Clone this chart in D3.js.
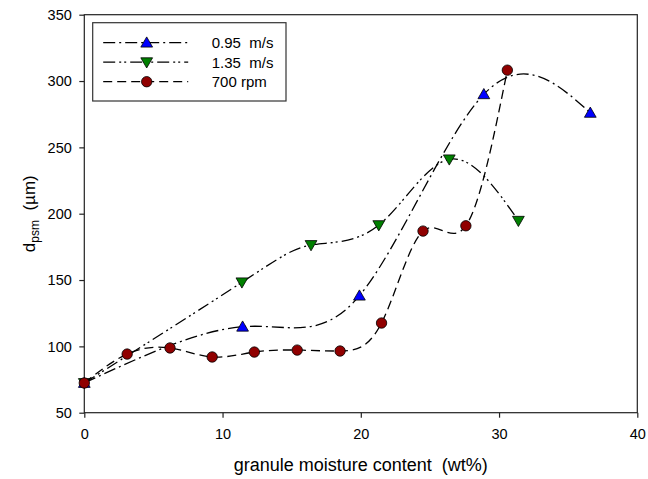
<!DOCTYPE html>
<html>
<head>
<meta charset="utf-8">
<script src="https://cdn.jsdelivr.net/npm/d3@7"></script>
<style>
  body { margin: 0; background: #fff; }
  svg { font-family: "Liberation Sans", Arial, sans-serif; }
  text { white-space: pre; }
</style>
</head>
<body>
<svg width="648" height="479"></svg>
<script>
// moisture content (wt%) and d_psm (µm) per series
const seriesNames = ["0.95  m/s", "1.35  m/s", "700 rpm"];
const x095 = [0, 11.45, 19.9, 28.9, 36.6];
const y095 = [72.4, 114.8, 138.2, 290, 276];
const x135 = [0, 11.4, 16.4, 21.3, 26.4, 31.4];
const y135 = [72.4, 148.3, 176.4, 191.4, 241, 194.7];
const x700 = [0, 3.1, 6.2, 9.25, 12.3, 15.4, 18.5, 21.5, 24.5, 27.6, 30.6];
const y700 = [72.4, 94.2, 98.8, 92, 95.7, 97.2, 96.5, 117.6, 186.9, 190.9, 308.2];
const xTicks = [0, 10, 20, 30, 40];
const yTicks = [50, 100, 150, 200, 250, 300, 350];

const svg = d3.select("svg");

const xScale = d3.scaleLinear().domain([0, 40]).range([84.3, 637.3]);
const yScale = d3.scaleLinear().domain([50, 350]).range([412.7, 14.7]);

const series = [
  { name: seriesNames[0], xs: x095, ys: y095, dash: "12,4,2,4", marker: "up", fill: "#0000ff" },
  { name: seriesNames[1], xs: x135, ys: y135, dash: "12,4,2,3,2,4", marker: "down", fill: "#008000" },
  { name: seriesNames[2], xs: x700, ys: y700, dash: "9,5", marker: "circle", fill: "#900000" },
];

const tri = d3.symbol().type(d3.symbolTriangle).size(60);

const drawMarker = (sel, s) => {
  if (s.marker === "circle") {
    sel.append("circle").attr("r", 5.2);
  } else {
    sel.append("path")
      .attr("d", tri())
      .attr("transform", s.marker === "up" ? "translate(0,1)" : "rotate(180) translate(0,1)");
  }
  sel.selectAll("circle,path")
    .attr("fill", s.fill)
    .attr("stroke", "#000")
    .attr("stroke-width", 0.8);
};

// frame
svg.append("rect")
  .attr("x", xScale(0))
  .attr("y", yScale(350))
  .attr("width", xScale(40) - xScale(0))
  .attr("height", yScale(50) - yScale(350))
  .attr("fill", "none")
  .attr("stroke", "#222")
  .attr("stroke-width", 1.2);

// axes
const xAxis = d3.axisBottom(xScale).tickValues(xTicks).tickSize(5).tickSizeOuter(0).tickPadding(11);
const yAxis = d3.axisLeft(yScale).tickValues(yTicks).tickSize(5).tickSizeOuter(0).tickPadding(7.5);

const gx = svg.append("g")
  .attr("transform", `translate(0, ${yScale(50)})`)
  .call(xAxis);
const gy = svg.append("g")
  .attr("transform", `translate(${xScale(0)}, 0)`)
  .call(yAxis);

[gx, gy].forEach((g) => {
  g.select(".domain").remove();
  g.selectAll(".tick line").attr("stroke", "#222").attr("stroke-width", 1.2);
  g.selectAll(".tick text")
    .attr("fill", "#000")
    .style("font-size", "14.5px")
    .style("font-family", '"Liberation Sans", Arial, sans-serif');
});

// axis titles
svg.append("text")
  .attr("x", xScale(20))
  .attr("y", 471)
  .attr("text-anchor", "middle")
  .style("font-size", "18px")
  .text("granule moisture content  (wt%)");

const yl = svg.append("text")
  .attr("transform", `translate(35, ${(yScale(50) + yScale(350)) / 2}) rotate(-90)`)
  .attr("text-anchor", "middle")
  .style("font-size", "17px");
yl.append("tspan").text("d");
yl.append("tspan").attr("dy", 4).style("font-size", "12px").text("psm");
yl.append("tspan").attr("dy", -4).text("  (µm)");

// curves
const line = d3.line()
  .x((d) => xScale(d[0]))
  .y((d) => yScale(d[1]))
  .curve(d3.curveNatural);

const plot = svg.append("g");

series.forEach((s) => {
  const pts = s.xs.map((x, i) => [x, s.ys[i]]);
  plot.append("path")
    .datum(pts)
    .attr("d", line)
    .attr("fill", "none")
    .attr("stroke", "#000")
    .attr("stroke-width", 1.3)
    .attr("stroke-dasharray", s.dash);

  plot.selectAll(null)
    .data(pts)
    .enter()
    .append("g")
    .attr("transform", (d) => `translate(${xScale(d[0])}, ${yScale(d[1])})`)
    .each(function () {
      drawMarker(d3.select(this), s);
    });
});

// legend
const legend = svg.append("g").attr("transform", "translate(92.7, 22.7)");
legend.append("rect")
  .attr("width", 193.3)
  .attr("height", 78.3)
  .attr("fill", "#fff")
  .attr("stroke", "#333")
  .attr("stroke-width", 1.2);

series.forEach((s, i) => {
  const row = legend.append("g").attr("transform", `translate(0, ${20 + i * 19.5})`);
  row.append("line")
    .attr("x1", 10.5)
    .attr("x2", 95.5)
    .attr("stroke", "#000")
    .attr("stroke-width", 1.3)
    .attr("stroke-dasharray", s.dash);
  const m = row.append("g").attr("transform", "translate(54, 0)");
  drawMarker(m, s);
  row.append("text")
    .attr("x", 119)
    .attr("dy", "0.36em")
    .style("font-size", "15px")
    .text(s.name);
});
</script>
</body>
</html>
